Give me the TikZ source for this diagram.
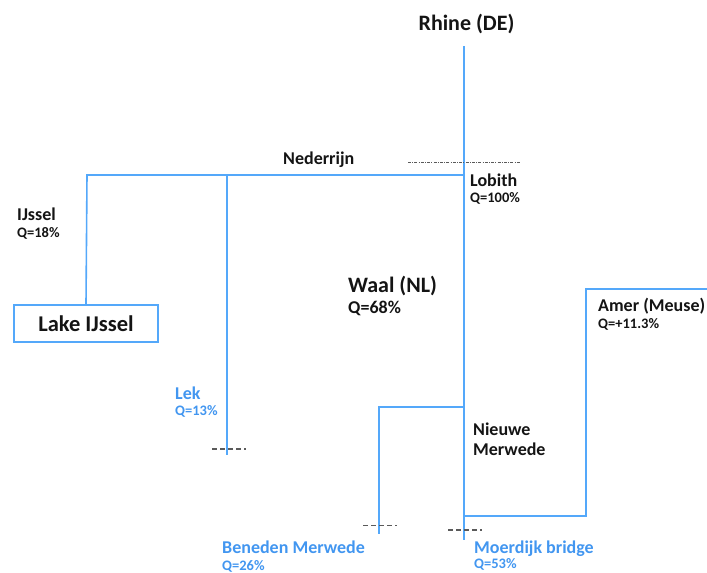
\documentclass[tikz,border=0pt]{standalone}
\usepackage{fontspec}
\setmainfont{Carlito}
\definecolor{riverblue}{RGB}{84,168,250}
\definecolor{labelblue}{RGB}{66,150,240}
\definecolor{inkdark}{RGB}{20,20,20}
\definecolor{gaugegray}{RGB}{90,90,90}
\begin{document}
\begin{tikzpicture}[x=1pt,y=-1pt,
  river/.style={draw=riverblue, line width=1.6pt, line join=miter},
  gauge/.style={draw=gaugegray, line width=1.3pt, dash pattern=on 4.5pt off 3.5pt},
  weir/.style={draw=gaugegray, line width=0.9pt, dash pattern=on 3pt off 1.2pt on 1pt off 1.2pt},
  rlabel/.style={anchor=base west, inner sep=0pt, text=inkdark, font=\bfseries\fontsize{18}{20}\selectfont},
  qval/.style={anchor=base west, inner sep=0pt, text=inkdark, font=\bfseries\fontsize{14.5}{16}\selectfont},
  bluename/.style={rlabel, text=labelblue},
  blueq/.style={qval, text=labelblue},
]
\useasboundingbox (0,0) rectangle (707,573);

% junctions and river ends
\coordinate (rhineTop) at (464,46);
\coordinate (lobith) at (464,175);
\coordinate (ijsselTurn) at (87,175);
\coordinate (lekJ) at (227,175);
\coordinate (lekEnd) at (227,455);
\coordinate (split) at (464,407);
\coordinate (benTurn) at (379,407);
\coordinate (benEnd) at (379,534);
\coordinate (amerJ) at (464,516);
\coordinate (amerB) at (586,516);
\coordinate (amerT) at (586,289);
\coordinate (amerEnd) at (707,289);
\coordinate (moerEnd) at (464,540);

% Lake IJssel
\node[draw=riverblue, line width=1.4pt, minimum width=144pt, minimum height=37pt,
      inner sep=0pt, text=inkdark, font=\bfseries\fontsize{22.5}{24}\selectfont]
  (lake) at (86,323.5) {Lake IJssel};

% rivers
\draw[river] (rhineTop) -- (moerEnd);
\draw[river] (lobith) -- (ijsselTurn) -- (lake.north);
\draw[river] (lekJ) -- (lekEnd);
\draw[river] (split) -- (benTurn) -- (benEnd);
\draw[river] (amerJ) -- (amerB) -- (amerT) -- (amerEnd);

% gauging stations
\coordinate (lobW) at (408,162.5); \coordinate (lobE) at (520,162.5);
\draw[weir] (lobW) -- (lobE);
\coordinate (lekW) at (212,449); \coordinate (lekE) at (246,449);
\draw[gauge] (lekW) -- (lekE);
\coordinate (benW) at (363,525.5); \coordinate (benE) at (397,525.5);
\draw[gauge] (benW) -- (benE);
\coordinate (moeW) at (448,530); \coordinate (moeE) at (482,530);
\draw[gauge] (moeW) -- (moeE);

% labels
\node[anchor=base, inner sep=0pt, text=inkdark, font=\bfseries\fontsize{22}{24}\selectfont] (rhine) at (466.5,30) {Rhine (DE)};
\node[rlabel] (nederrijn) at (283,164) {Nederrijn};
\node[rlabel] (lobithL) at (470,186.5) {Lobith};
\node[qval] (lobithQ) at (470,202.5) {Q=100\%};
\node[rlabel] (ijssel) at (17,220.5) {IJssel};
\node[qval] (ijsselQ) at (17,237) {Q=18\%};
\node[anchor=base west, inner sep=0pt, text=inkdark, font=\bfseries\fontsize{22}{24}\selectfont] (waal) at (348,292) {Waal (NL)};
\node[anchor=base west, inner sep=0pt, text=inkdark, font=\bfseries\fontsize{18}{20}\selectfont] (waalQ) at (348,313) {Q=68\%};
\node[rlabel] (amer) at (598,311) {Amer (Meuse)};
\node[qval] (amerQ) at (598,328) {Q=+11.3\%};
\node[bluename] (lek) at (175,399) {Lek};
\node[blueq] (lekQ) at (175,415) {Q=13\%};
\node[rlabel] (nieuwe) at (473,435) {Nieuwe};
\node[rlabel] (merwede) at (473,455) {Merwede};
\node[bluename] (beneden) at (222,553.5) {Beneden Merwede};
\node[blueq] (benedenQ) at (222,570.5) {Q=26\%};
\node[bluename] (moerdijk) at (474,553.5) {Moerdijk bridge};
\node[blueq] (moerdijkQ) at (474,568.5) {Q=53\%};
\end{tikzpicture}
\end{document}
